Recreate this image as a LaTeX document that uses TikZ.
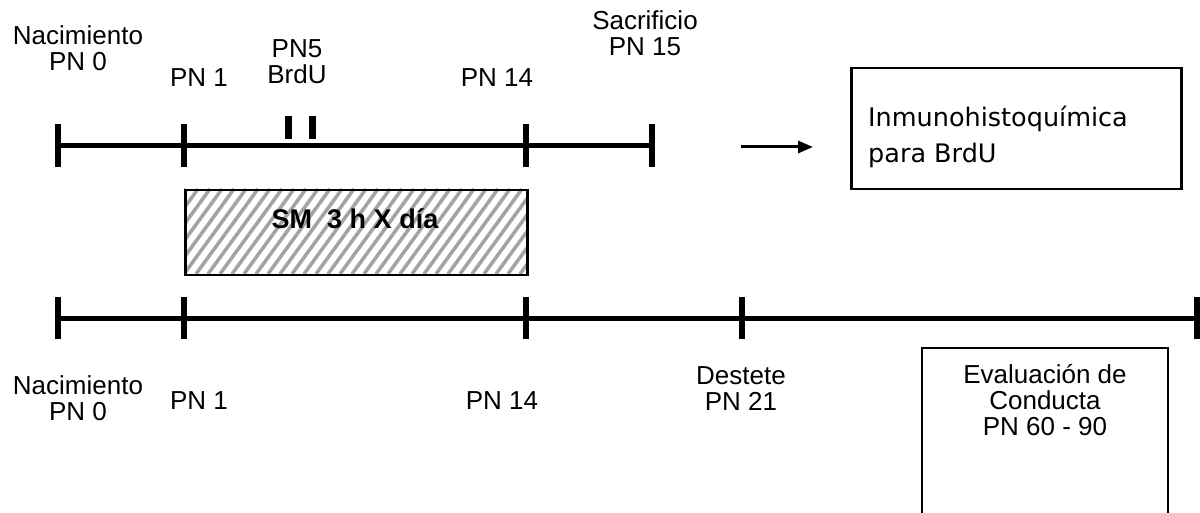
\documentclass[tikz,border=0pt]{standalone}
\usepackage{fontspec}
\setmainfont{Liberation Sans}
\newfontfamily\boxfont{DejaVu Sans}
\usetikzlibrary{arrows.meta}
\begin{document}
\begin{tikzpicture}[x=1pt,y=-1pt,
  lbl/.style={font=\fontsize{26}{26}\selectfont, align=center, inner sep=0pt, anchor=base},
  axisline/.style={line width=5pt},
  tickmark/.style={line width=6pt},
  bar/.style={line width=7pt},
  frame/.style={draw, line width=2.5pt},
  hatch/.style={draw=black!36, line width=3.5pt},
]
\useasboundingbox (0,0) rectangle (1200,513);

% ---------- top timeline ----------
\coordinate (t0) at (58,146);
\coordinate (t1) at (184,146);
\coordinate (t14) at (526,146);
\coordinate (t15) at (652,146);
\draw[axisline] (t0) -- (t15);
\foreach \c in {t0,t1,t14,t15}
  \draw[tickmark] ([yshift=-21pt]\c) -- ([yshift=22pt]\c);
\coordinate (b1) at (288,116);
\coordinate (b2) at (312,116);
\draw[bar] (b1) -- ++(0,23);
\draw[bar] (b2) -- ++(0,23);

% (base anchor = baseline of the last line)
\node[lbl] (nac1) at (78,71) {Nacimiento\\PN 0};
\node[lbl] (pn1a) at (199,87) {PN 1};
\node[lbl] (pn5) at (297,84) {PN5\\BrdU};
\node[lbl] (pn14a) at (497,87) {PN 14};
\node[lbl] (sac) at (645,56) {Sacrificio\\PN 15};

% ---------- hatched box ----------
\begin{scope}
  \clip (184,189) rectangle (526,274);
  \foreach \i in {-120,-108,...,400}
    \draw[hatch] (184+\i,274) -- ++(62,-85);
\end{scope}
\node[frame, minimum width=342pt, minimum height=85pt, inner sep=0pt, anchor=north west] (sm) at (184,189) {};
\node[lbl, font=\fontsize{27}{27}\selectfont\bfseries] (smtxt) at (355,229) {SM\ \ 3 h X día};

% ---------- arrow and result box ----------
\node[frame, minimum width=330pt, minimum height=121pt, inner sep=0pt, anchor=north west] (inm) at (850,67) {};
\node[font=\boxfont\fontsize{25.5}{36}\selectfont, align=left, inner sep=0pt, anchor=base west] (inmtxt) at (868,163) {Inmunohistoquímica\\para BrdU};
\coordinate (arrS) at (741,147);
\coordinate (arrE) at (813,147);
\draw[line width=3pt, -{Triangle[length=15pt,width=12pt]}] (arrS) -- (arrE);

% ---------- bottom timeline ----------
\coordinate (u0) at (58,318);
\coordinate (u1) at (184,318);
\coordinate (u14) at (526,318);
\coordinate (u21) at (742,318);
\coordinate (uend) at (1197,318);
\draw[axisline] (u0) -- (uend);
\foreach \c in {u0,u1,u14,u21,uend}
  \draw[tickmark] ([yshift=-21pt]\c) -- ([yshift=21pt]\c);

\node[lbl] (nac2) at (78,420) {Nacimiento\\PN 0};
\node[lbl] (pn1b) at (199,409) {PN 1};
\node[lbl] (pn14b) at (502,409) {PN 14};
\node[lbl] (dest) at (741,410) {Destete\\PN 21};

% ---------- behaviour box (open at bottom) ----------
\coordinate (ev1) at (922,513);
\coordinate (ev2) at (922,348);
\coordinate (ev3) at (1168,348);
\coordinate (ev4) at (1168,513);
\draw[line width=2.5pt] (ev1) -- (ev2) -- (ev3) -- (ev4);
\node[lbl] (eval) at (1045,435) {Evaluación de\\Conducta\\PN 60 - 90};
\end{tikzpicture}
\end{document}
